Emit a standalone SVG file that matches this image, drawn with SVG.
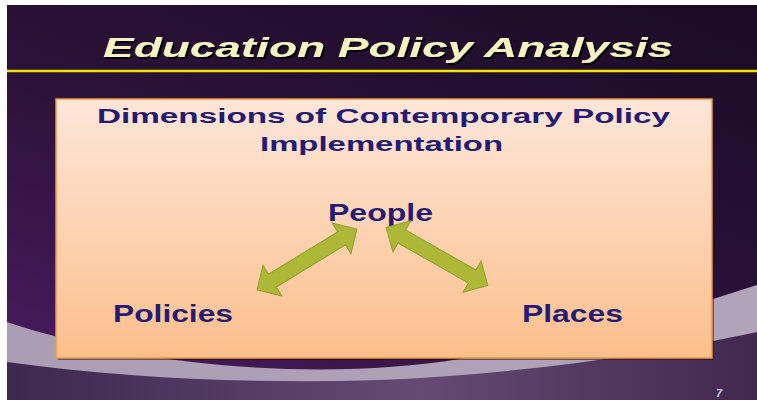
<svg xmlns="http://www.w3.org/2000/svg" width="757" height="400" viewBox="0 0 757 400">
  <defs>
    <linearGradient id="bgDark" x1="0.85" y1="0" x2="0.1" y2="1">
      <stop offset="0" stop-color="#1d0c27"/>
      <stop offset="0.5" stop-color="#2b1239"/>
      <stop offset="1" stop-color="#4a1b5e"/>
    </linearGradient>
    <linearGradient id="bgLow" x1="0" y1="0" x2="1" y2="0">
      <stop offset="0" stop-color="#3d2851"/>
      <stop offset="0.55" stop-color="#654b73"/>
      <stop offset="1" stop-color="#42284e"/>
    </linearGradient>
    <linearGradient id="band" x1="0" y1="0" x2="1" y2="0">
      <stop offset="0" stop-color="#ab9db4"/>
      <stop offset="1" stop-color="#b1a4ba"/>
    </linearGradient>
    <linearGradient id="boxFill" x1="0" y1="0" x2="0" y2="1">
      <stop offset="0" stop-color="#fde6d8"/>
      <stop offset="1" stop-color="#fcbf8c"/>
    </linearGradient>
    <filter id="titleShadow" x="-5%" y="-20%" width="110%" height="150%">
      <feDropShadow dx="2" dy="2" stdDeviation="0.6" flood-color="#050205" flood-opacity="1"/>
    </filter>
    <polygon id="dblArrow" points="-58.5,0 -40.5,-18 -40.5,-7.5 40.5,-7.5 40.5,-18 58.5,0 40.5,18 40.5,7.5 -40.5,7.5 -40.5,18"/>
  </defs>
  <style>
    .title { font-family: "Liberation Sans", Arial, sans-serif; font-weight: bold; font-style: italic; font-size: 28px; fill: #f4f2c0; }
    .head { font-family: "Liberation Sans", Arial, sans-serif; font-weight: bold; font-size: 20px; fill: #251b72; }
    .label { font-family: "Liberation Sans", Arial, sans-serif; font-weight: bold; font-size: 23px; fill: #251b72; }
    .arrow { fill: #adb837; stroke: #8f9b2e; stroke-width: 1; }
  </style>

  <!-- background -->
  <rect x="0" y="0" width="757" height="400" fill="#ffffff"/>
  <rect x="7" y="5" width="750" height="395" fill="url(#bgDark)"/>
  <path d="M7,322 C150,370 330,380 460,359 C580,340 680,310 757,285 L757,400 L7,400 Z" fill="url(#band)"/>
  <path d="M7,362 C120,378 250,384 380,380 C520,374 650,355 757,332 L757,400 L7,400 Z" fill="url(#bgLow)"/>

  <!-- title -->
  <g id="title">
    <text class="title" x="103" y="57" textLength="570" lengthAdjust="spacingAndGlyphs" filter="url(#titleShadow)">Education Policy Analysis</text>
    <line x1="7" y1="71" x2="757" y2="71" stroke="#f2e400" stroke-width="2.5"/>
  </g>

  <!-- content box -->
  <g id="box">
    <rect x="58" y="101" width="656" height="259" fill="#140818" opacity="0.5"/>
    <rect x="56" y="99" width="656" height="259" fill="url(#boxFill)" stroke="#f0983e" stroke-width="1.5"/>
    <text class="head" x="97" y="122.5" textLength="573" lengthAdjust="spacingAndGlyphs">Dimensions of Contemporary Policy</text>
    <text class="head" x="260" y="151" textLength="243" lengthAdjust="spacingAndGlyphs">Implementation</text>
  </g>

  <g id="node-people">
    <text class="label" x="328" y="221" textLength="105" lengthAdjust="spacingAndGlyphs">People</text>
  </g>
  <g id="node-policies">
    <text class="label" x="113" y="322" textLength="120" lengthAdjust="spacingAndGlyphs">Policies</text>
  </g>
  <g id="node-places">
    <text class="label" x="522" y="322" textLength="101" lengthAdjust="spacingAndGlyphs">Places</text>
  </g>

  <!-- connectors -->
  <g id="connectors">
    <use href="#dblArrow" class="arrow" transform="translate(307,259.5) rotate(-31.4)"/>
    <use href="#dblArrow" class="arrow" transform="translate(437,256.5) rotate(29.7)"/>
  </g>

  <g id="page-number">
    <text x="716" y="397" font-family="Liberation Sans, Arial, sans-serif" font-weight="bold" font-style="italic" font-size="11" fill="#c9cde2">7</text>
  </g>
</svg>
